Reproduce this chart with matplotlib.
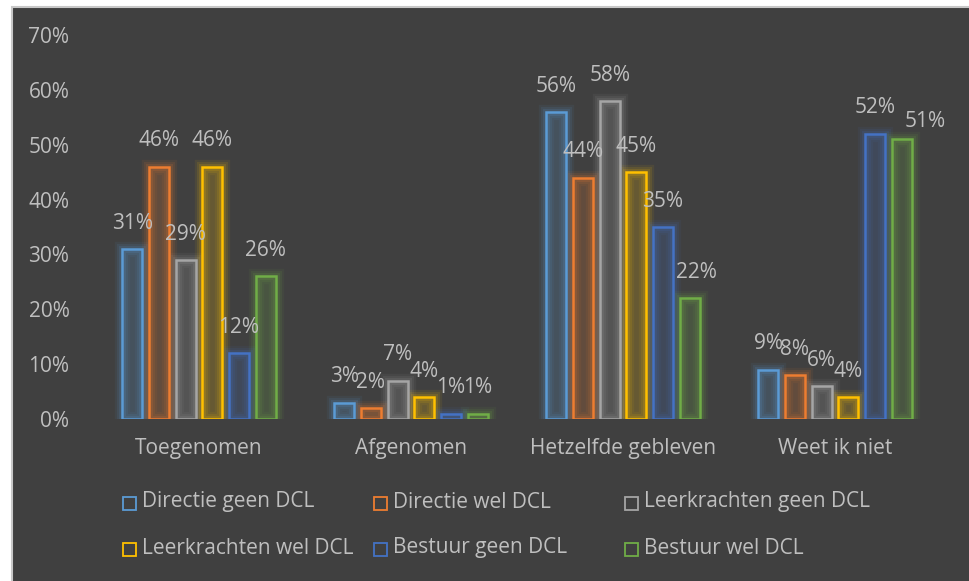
import numpy as np
import matplotlib
matplotlib.use("Agg")
import matplotlib.pyplot as plt
from matplotlib.patches import Rectangle

plt.rcParams['font.family'] = ['Open Sans', 'DejaVu Sans']

categories = ['Toegenomen', 'Afgenomen', 'Hetzelfde gebleven', 'Weet ik niet']
series = ['Directie geen DCL', 'Directie wel DCL', 'Leerkrachten geen DCL',
          'Leerkrachten wel DCL', 'Bestuur geen DCL', 'Bestuur wel DCL']
values = [
    [31, 3, 56, 9],
    [46, 2, 44, 8],
    [29, 7, 58, 6],
    [46, 4, 45, 4],
    [12, 1, 35, 52],
    [26, 1, 22, 51],
]
colors = ['#5B9BD5', '#ED7D31', '#A5A5A5', '#FFC000', '#4472C4', '#70AD47']
# data labels moved by hand in the original (series, category) -> (dx, dy) in points
label_shift = {(5, 3): (17, -6), (5, 2): (5, 0)}

bg = '#404040'
txt = '#BFBFBF'
fs = 15

W, H = 970, 581
fig = plt.figure(figsize=(W / 100, H / 100), dpi=100)
fig.patch.set_facecolor('white')
# dark chart area with light border (top/left offset like the screenshot)
fig.patches.append(Rectangle((12 / W, -0.01), 1.0, (H - 7) / H + 0.01,
                             transform=fig.transFigure, facecolor=bg,
                             edgecolor='#C8C8C8', linewidth=1.5, zorder=-1))

ax = fig.add_axes([93 / W, (H - 419) / H, 848 / W, 384 / H])
ax.set_facecolor('none')

x = np.arange(len(categories))
slot = 26.7 / 212
bw = 20 / 212
for i, (name, vals) in enumerate(zip(series, values)):
    pos = x - 2.5 * slot + i * slot
    v = np.array(vals) / 100
    # glow
    for lw, a in [(11, 0.07), (8, 0.10), (5, 0.14)]:
        ax.bar(pos, v, bw, facecolor='none', edgecolor=colors[i],
               linewidth=lw, alpha=a, zorder=2)
    ax.bar(pos, v, bw, facecolor=colors[i], alpha=0.2, edgecolor='none', zorder=3)
    ax.bar(pos, v, bw, facecolor='none', edgecolor=colors[i], linewidth=1.8, zorder=4)
    for j, (p, val) in enumerate(zip(pos, vals)):
        dx, dy = label_shift.get((i, j), (0, 0))
        ax.annotate(f'{val}%', (p, val / 100), xytext=(dx, 11 + dy),
                    textcoords='offset points', ha='center', va='bottom',
                    color=txt, fontsize=fs, zorder=5)

ax.set_xlim(-0.5, len(categories) - 0.5)
ax.set_ylim(0, 0.70)
ax.set_yticks(np.arange(0, 0.71, 0.1))
ax.set_yticklabels([f'{int(round(t * 100))}%' for t in np.arange(0, 0.71, 0.1)])
ax.set_xticks(x)
ax.set_xticklabels(categories)
ax.tick_params(axis='both', length=0, colors=txt, labelsize=fs)
ax.tick_params(axis='y', pad=17)
ax.tick_params(axis='x', pad=14)
for s in ax.spines.values():
    s.set_visible(False)

# legend, fixed-width columns
for i, (name, c) in enumerate(zip(series, colors)):
    col, row = i % 3, i // 3
    lx = 123 + 251 * col
    ly = 503 + 46 * row
    fig.patches.append(Rectangle((lx / W, (H - ly - 6.5) / H), 13 / W, 13 / H,
                                 transform=fig.transFigure, facecolor='none',
                                 edgecolor=c, linewidth=1.3))
    fig.text((lx + 19) / W, (H - ly + 1) / H, name, color=txt, fontsize=fs,
             va='center', ha='left')

fig.savefig('out.png', dpi=100, facecolor=fig.get_facecolor())
